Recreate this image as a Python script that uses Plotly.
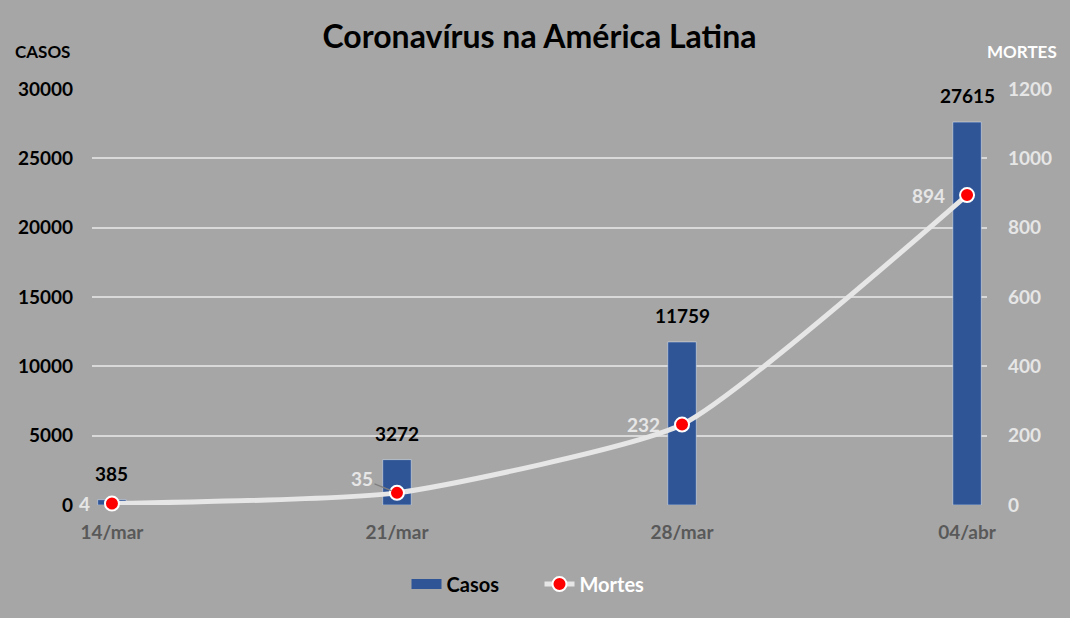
import plotly.graph_objects as go

datas = ["14/mar", "21/mar", "28/mar", "04/abr"]
casos = [385, 3272, 11759, 27615]
mortes = [4, 35, 232, 894]
casos_ticks = [0, 5000, 10000, 15000, 20000, 25000, 30000]
mortes_ticks = [0, 200, 400, 600, 800, 1000, 1200]

BG = "#A6A6A6"
BLUE = "#2F5597"
FONT = "Lato"

fig = go.Figure()
fig.add_trace(go.Bar(
    x=datas, y=casos, name="Casos", marker_color=BLUE, width=0.1,
    yaxis="y", showlegend=False,
))
# legend entry for the bars (wide rectangle like the original)
fig.add_trace(go.Scatter(
    x=[None], y=[None], name="Casos", mode="lines",
    line=dict(color=BLUE, width=14), yaxis="y",
))
fig.add_trace(go.Scatter(
    x=datas, y=mortes, name="<span style='color:white'>Mortes</span>",
    mode="lines+markers", yaxis="y2",
    line=dict(color="#E6E6E6", width=5, shape="spline", smoothing=0.5),
    marker=dict(color="#FF0000", size=14, line=dict(color="white", width=2)),
    cliponaxis=False,
))

# case labels above bars
for d, c in zip(datas, casos):
    fig.add_annotation(x=d, y=c, xref="x", yref="y", text=str(c), showarrow=False,
                       yanchor="bottom", yshift=13,
                       font=dict(family=FONT, size=19, color="black", weight="bold"))

# death labels (offsets in pixels)
offs = [(-20, 0, False), (-35, -14, True), (-20, 0, False), (-20, 0, False)]
for d, m, (ax, ay, arrow) in zip(datas, mortes, offs):
    if arrow:
        fig.add_annotation(x=d, y=m, xref="x", yref="y2", text=str(m),
                           showarrow=True, ax=ax, ay=ay, arrowhead=0,
                           arrowcolor="#7F7F7F", arrowwidth=1.2, standoff=6,
                           font=dict(family=FONT, size=19, color="#E6E6E6", weight="bold"))
    else:
        fig.add_annotation(x=d, y=m, xref="x", yref="y2", text=str(m),
                           showarrow=False, xanchor="right", xshift=ax, yshift=ay,
                           font=dict(family=FONT, size=19, color="#E6E6E6", weight="bold"))

fig.add_annotation(x=(42 - 92) / 895, y=(505 - 51) / 416, xref="paper", yref="paper",
                   text="CASOS", showarrow=False, xanchor="center", yanchor="middle",
                   font=dict(family=FONT, size=17, color="black", weight="bold"))
fig.add_annotation(x=(1022 - 92) / 895, y=(505 - 51) / 416, xref="paper", yref="paper",
                   text="MORTES", showarrow=False, xanchor="center", yanchor="middle",
                   font=dict(family=FONT, size=17, color="white", weight="bold"))

fig.update_layout(
    width=1070, height=618,
    margin=dict(l=92, r=83, t=89, b=113),
    paper_bgcolor=BG, plot_bgcolor=BG,
    font=dict(family=FONT, weight="bold"),
    title=dict(text="Coronavírus na América Latina", x=0.5, xanchor="center",
               y=1 - 37 / 618, yanchor="middle", xref="paper",
               font=dict(family=FONT, size=32, color="black", weight="bold")),
    xaxis=dict(type="category", range=[-0.07, 3.07], showgrid=False, zeroline=False,
               showline=False, ticks="",
               tickfont=dict(family=FONT, size=19, color="#595959", weight="bold"),
               ticklabelstandoff=14),
    yaxis=dict(range=[0, 30000], tickvals=casos_ticks,
               ticktext=[str(v) for v in casos_ticks], showgrid=True,
               gridcolor="#D9D9D9", gridwidth=2, zeroline=False, showline=False,
               tickfont=dict(family=FONT, size=19, color="black", weight="bold"),
               ticklabelstandoff=18),
    yaxis2=dict(range=[0, 1200], tickvals=mortes_ticks,
                ticktext=[str(v) for v in mortes_ticks], overlaying="y", side="right",
                showgrid=False, zeroline=False, showline=False,
                tickfont=dict(family=FONT, size=19, color="#E6E6E6", weight="bold"),
                ticklabelstandoff=20),
    legend=dict(orientation="h", x=0.5, xanchor="center", y=-0.19, yanchor="middle",
                font=dict(family=FONT, size=20, color="black", weight="bold"),
                bgcolor="rgba(0,0,0,0)", entrywidth=88, entrywidthmode="pixels"),
    showlegend=True,
)

fig.write_html("out.html")
